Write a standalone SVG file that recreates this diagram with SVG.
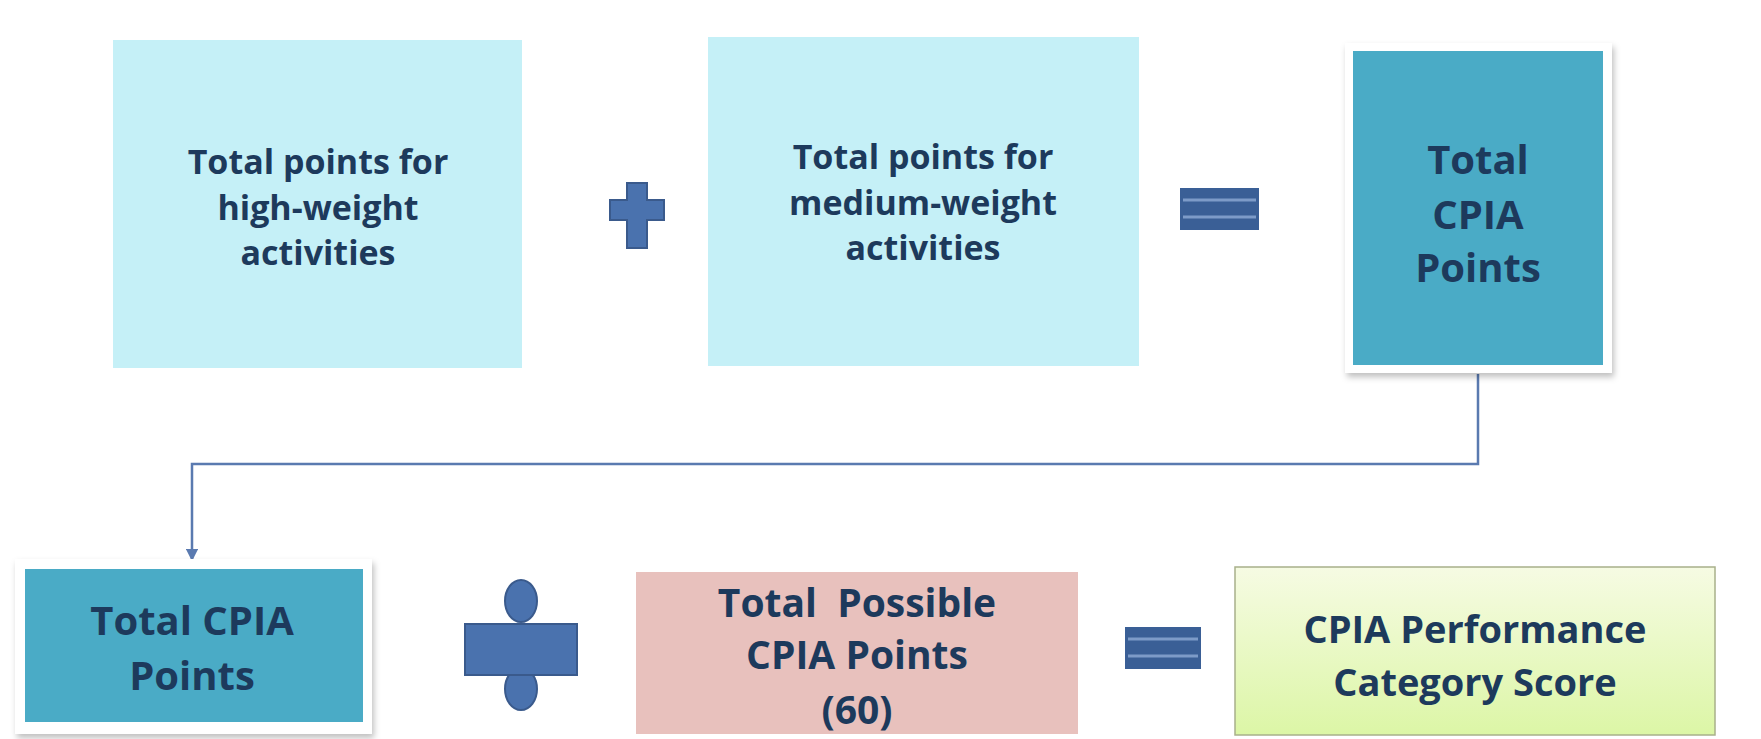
<svg xmlns="http://www.w3.org/2000/svg" width="1761" height="739" viewBox="0 0 1761 739">
<style>
.t{font-family:"Open Sans","Noto Sans","DejaVu Sans",sans-serif;font-weight:700;fill:#1d3a5c;text-anchor:middle}
.op{fill:#4a72ae;stroke:#3a5a8c;stroke-width:2}
.eq{fill:#3a5f96}
.eql{stroke:#7d9bc8;stroke-width:3}
.conn{fill:none;stroke:#5a7ab0;stroke-width:2.5}
</style>
<defs>
<filter id="sh" x="-10%" y="-10%" width="120%" height="125%">
<feDropShadow dx="2" dy="4" stdDeviation="3" flood-color="#000" flood-opacity="0.25"/>
</filter>
<linearGradient id="gg" x1="0" y1="0" x2="0" y2="1">
<stop offset="0" stop-color="#f6fbe3"/>
<stop offset="1" stop-color="#dcf6a6"/>
</linearGradient>
<marker id="ah" viewBox="0 0 10 10" refX="9" refY="5" markerWidth="5" markerHeight="5" orient="auto">
<path d="M0,0 L10,5 L0,10 z" fill="#5a7ab0"/>
</marker>
</defs>
<rect width="1761" height="739" fill="#fff"/>
<g id="connectors">
<path class="conn" d="M1478,374 V464 H192 V560" marker-end="url(#ah)"/>
</g>
<g id="box1">
<rect x="113" y="40" width="409" height="328" fill="#c5f0f7"/>
<text class="t" font-size="34" x="318" y="174">Total points for</text>
<text class="t" font-size="34" x="318" y="220">high-weight</text>
<text class="t" font-size="34" x="318" y="265">activities</text>
</g>
<g id="plus">
<path class="op" d="M627,183 H647 V200 H664 V220 H647 V248 H627 V220 H610 V200 H627 Z"/>
</g>
<g id="box2">
<rect x="708" y="37" width="431" height="329" fill="#c5f0f7"/>
<text class="t" font-size="34" x="923" y="169">Total points for</text>
<text class="t" font-size="34" x="923" y="215">medium-weight</text>
<text class="t" font-size="34" x="923" y="260">activities</text>
</g>
<g id="eq1">
<rect class="eq" x="1180" y="188" width="79" height="42"/>
<line class="eql" x1="1183" y1="200" x2="1256" y2="200"/>
<line class="eql" x1="1183" y1="217" x2="1256" y2="217"/>
</g>
<g id="box3">
<rect x="1345" y="43" width="267" height="330" fill="#fff" filter="url(#sh)"/>
<rect x="1353" y="51" width="250" height="314" fill="#4aabc6"/>
<text class="t" font-size="40" x="1478" y="174">Total</text>
<text class="t" font-size="40" x="1478" y="229">CPIA</text>
<text class="t" font-size="40" x="1478" y="282">Points</text>
</g>
<g id="box4">
<rect x="15" y="559" width="357" height="175" fill="#fff" filter="url(#sh)"/>
<rect x="25" y="569" width="338" height="153" fill="#4aabc6"/>
<text class="t" font-size="40" x="192" y="635">Total CPIA</text>
<text class="t" font-size="40" x="192" y="690">Points</text>
</g>
<g id="divide">
<ellipse class="op" cx="521" cy="601" rx="16" ry="21"/>
<ellipse class="op" cx="521" cy="689" rx="16" ry="21"/>
<rect class="op" x="465" y="624" width="112" height="51"/>
</g>
<g id="box5">
<rect x="636" y="572" width="442" height="162" fill="#e8c1bd"/>
<text class="t" font-size="39" x="857" y="617" xml:space="preserve">Total  Possible</text>
<text class="t" font-size="39" x="857" y="669">CPIA Points</text>
<text class="t" font-size="39" x="857" y="724">(60)</text>
</g>
<g id="eq2">
<rect class="eq" x="1125" y="627" width="76" height="42"/>
<line class="eql" x1="1128" y1="639" x2="1198" y2="639"/>
<line class="eql" x1="1128" y1="656" x2="1198" y2="656"/>
</g>
<g id="box6">
<rect x="1235" y="567" width="480" height="168" fill="url(#gg)" stroke="#a8b08a" stroke-width="1.5"/>
<text class="t" font-size="38" x="1475" y="643">CPIA Performance</text>
<text class="t" font-size="38" x="1475" y="696">Category Score</text>
</g>
</svg>
